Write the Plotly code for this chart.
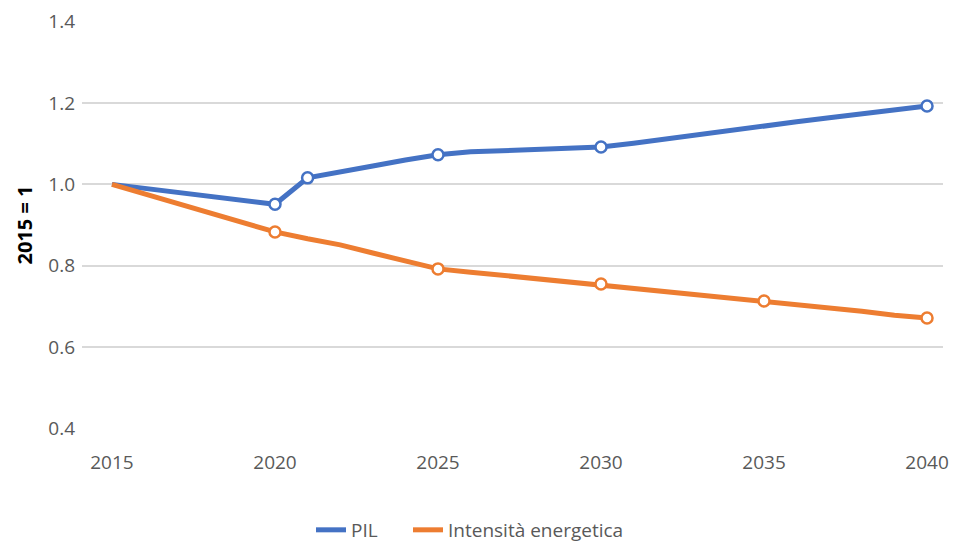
import plotly.graph_objects as go

# Annual series, index 2015 = 1
years = list(range(2015, 2041))
pil = [1.000, 0.990, 0.980, 0.970, 0.960, 0.951,
       1.016, 1.032, 1.045, 1.060, 1.073,
       1.080, 1.083, 1.086, 1.089, 1.092,
       1.101, 1.112, 1.124, 1.134, 1.144,
       1.154, 1.164, 1.174, 1.185, 1.193]
intensita = [1.000, 0.977, 0.953, 0.930, 0.906, 0.883,
             0.866, 0.851, 0.831, 0.811, 0.792,
             0.784, 0.776, 0.768, 0.761, 0.755,
             0.747, 0.738, 0.731, 0.722, 0.713,
             0.705, 0.696, 0.688, 0.678, 0.671]

# Years highlighted with a hollow marker
pil_marker_years = [2020, 2021, 2025, 2030, 2040]
int_marker_years = [2020, 2025, 2030, 2035, 2040]

y_ticks = [0.4, 0.6, 0.8, 1.0, 1.2, 1.4]
x_ticks = [2015, 2020, 2025, 2030, 2035, 2040]

BLUE = "#4472C4"
ORANGE = "#ED7D31"
FONT = "Open Sans"

fig = go.Figure()

for name, values, marked, color, lw in [
    ("PIL", pil, pil_marker_years, BLUE, 52),
    ("Intensità energetica", intensita, int_marker_years, ORANGE, 190),
]:
    fig.add_trace(go.Scatter(
        x=years, y=values, name=name, mode="lines",
        line=dict(color=color, width=5), legendwidth=lw,
    ))
    fig.add_trace(go.Scatter(
        x=marked, y=[values[years.index(yr)] for yr in marked],
        mode="markers", showlegend=False, hoverinfo="skip",
        marker=dict(size=11, color="white", line=dict(color=color, width=2.5)),
    ))

fig.update_layout(
    width=954, height=543,
    margin=dict(l=82, r=11, t=21, b=114),
    paper_bgcolor="white", plot_bgcolor="white",
    font=dict(family=FONT, size=19, color="#595959"),
    legend=dict(
        orientation="h", xref="container", yref="container",
        x=0.5, xanchor="center", y=0.024, yanchor="middle",
        font=dict(size=19, color="#595959"),
    ),
)

fig.update_xaxes(
    range=[2014.08, 2040.49], automargin=False,
    tickvals=x_ticks, ticktext=[str(v) for v in x_ticks],
    showgrid=False, zeroline=False, showline=False,
    ticks="", ticklabelstandoff=20,
)
fig.update_yaxes(
    range=[0.398, 1.402], automargin=False,
    tickvals=y_ticks, ticktext=[f"{v:.1f}" for v in y_ticks],
    showgrid=True, gridcolor="#D9D9D9", gridwidth=1.5,
    zeroline=False, showline=False, ticks="",
    ticklabelstandoff=6,
    title=dict(text="<b>2015 = 1</b>", font=dict(size=20, color="black"), standoff=10),
)

fig.write_html("out.html")
